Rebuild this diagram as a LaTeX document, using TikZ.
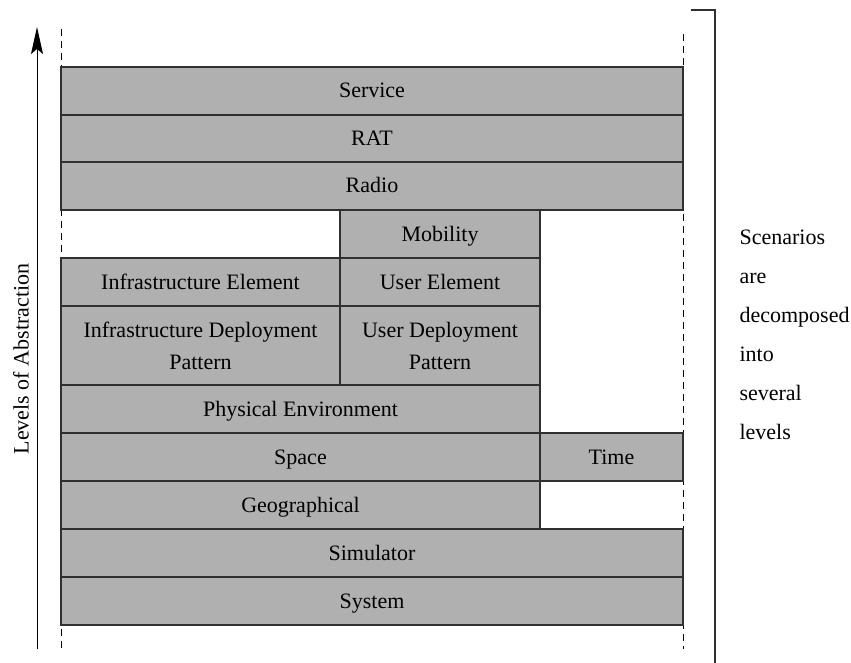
\documentclass[tikz,border=0pt]{standalone}
\usepackage{fontspec}
\setmainfont{Liberation Serif}
\usetikzlibrary{arrows.meta}
\definecolor{layerfill}{HTML}{B0B0B0}
\definecolor{layerline}{HTML}{303030}
\begin{document}
\begin{tikzpicture}[x=1pt,y=-1pt,
  layer/.style={draw=layerline, line width=1.2pt, fill=layerfill, inner sep=0pt,
    font=\fontsize{22}{32}\selectfont, align=center},
  one/.style={text height=16pt, text depth=2pt},
  guide/.style={line width=1pt, dash pattern=on 7pt off 5pt},
  lbl/.style={font=\fontsize{22}{39}\selectfont}]
\useasboundingbox (0,0) rectangle (851,663);
% dashed guides
\coordinate (gl1) at (61,29);
\coordinate (gl2) at (61,649);
\coordinate (gr1) at (683,34);
\coordinate (gr2) at (683,649);
\draw[guide] (gl1) -- (gl2);
\draw[guide] (gr1) -- (gr2);
% layers
\node[layer, one, minimum width=622pt, minimum height=48pt] (service) at (372,91) {Service};
\node[layer, one, minimum width=622pt, minimum height=47pt] (rat) at (372,138.5) {RAT};
\node[layer, one, minimum width=622pt, minimum height=48pt] (radio) at (372,186) {Radio};
\node[layer, one, minimum width=200pt, minimum height=48pt] (mobility) at (440,234) {Mobility};
\node[layer, one, minimum width=279pt, minimum height=48pt] (infel) at (200.5,282) {Infrastructure Element};
\node[layer, one, minimum width=200pt, minimum height=48pt] (userel) at (440,282) {User Element};
\node[layer, minimum width=279pt, minimum height=79pt] (infdep) at (200.5,345.5) {Infrastructure Deployment\\Pattern};
\node[layer, minimum width=200pt, minimum height=79pt] (userdep) at (440,345.5) {User Deployment\\Pattern};
\node[layer, one, minimum width=479pt, minimum height=48pt] (phys) at (300.5,409) {Physical Environment};
\node[layer, one, minimum width=479pt, minimum height=48pt] (space) at (300.5,457) {Space};
\node[layer, one, minimum width=143pt, minimum height=48pt] (time) at (611.5,457) {Time};
\node[layer, one, minimum width=479pt, minimum height=48pt] (geo) at (300.5,505) {Geographical};
\node[layer, one, minimum width=622pt, minimum height=48pt] (sim) at (372,553) {Simulator};
\node[layer, one, minimum width=622pt, minimum height=48pt] (system) at (372,601) {System};
% abstraction arrow
\coordinate (abot) at (37,649);
\coordinate (atop) at (37,27);
\draw[line width=1pt, -{Stealth[length=27pt,width=12pt,inset=5pt]}] (abot) -- (atop);
\node[lbl, rotate=90] (levels) at (21,359) {Levels of Abstraction};
% bracket
\coordinate (b1) at (691,10);
\coordinate (b2) at (715,10);
\coordinate (b3) at (715,663);
\draw[line width=1.2pt, draw=layerline] (b1) -- (b2) -- (b3);
\node[lbl, anchor=west, align=left] (scen) at (736,335) {Scenarios\\are\\decomposed\\into\\several\\levels};
\end{tikzpicture}
\end{document}
